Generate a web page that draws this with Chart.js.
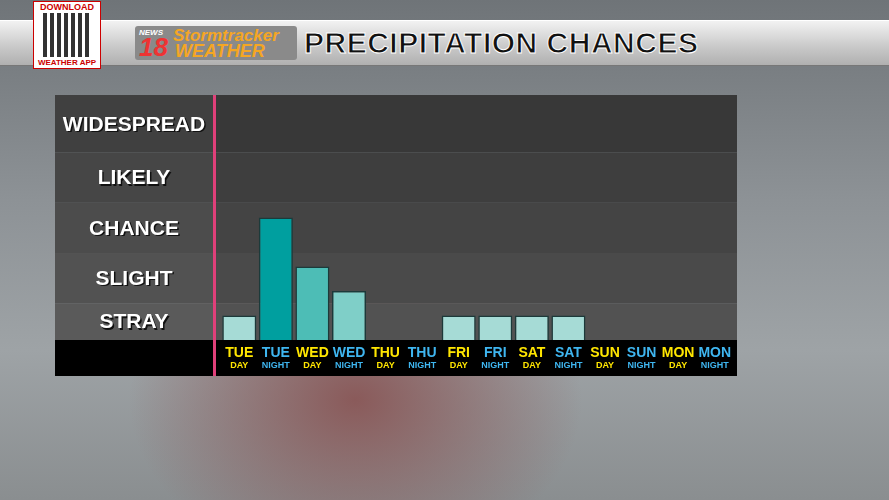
<!DOCTYPE html>
<html><head><meta charset="utf-8">
<script src="https://cdn.jsdelivr.net/npm/chart.js@4"></script>
<style>
body{margin:0;width:889px;height:500px;overflow:hidden;font-family:"Liberation Sans",Arial,sans-serif;
background:radial-gradient(ellipse at 40% 80%,#8a5a5a 0%,rgba(120,110,115,0) 30%),linear-gradient(180deg,#6f7478 0%,#8d9296 40%,#9ea3a6 70%,#8a8e90 100%);position:relative}
#hdr{position:absolute;left:0;top:20px;width:889px;height:44px;background:linear-gradient(180deg,#f2f2f2,#c8c8c8 60%,#b0b0b0);border-top:1px solid #fff;border-bottom:1px solid #777}
#title{position:absolute;left:304px;top:26px;font:bold 30px "Liberation Sans",Arial;color:#111;-webkit-text-stroke:1px #fff;letter-spacing:0.5px}
#logo{position:absolute;left:135px;top:26px;width:162px;height:34px;background:#8a8a8a;border-radius:3px}
#logo span{position:absolute;font-weight:bold;font-style:italic}
#qr{position:absolute;left:33px;top:1px;width:66px;height:66px;background:#fff;border:1px solid #c00}
#wrap{position:absolute;left:55px;top:95px;width:682px;height:281px}
</style></head><body>
<div id="hdr"></div>
<div id="qr"><div style="font:bold 9px Arial;color:#c00;text-align:center">DOWNLOAD</div><div style="margin:1px 9px;height:44px;background:repeating-linear-gradient(90deg,#000 0 4px,#fff 4px 7px),#000;opacity:.8"></div><div style="font:bold 8px Arial;color:#c00;text-align:center">WEATHER APP</div></div>
<div id="logo"><span style="left:4px;top:2px;color:#fff;font-size:8px">NEWS</span><span style="left:4px;top:6px;color:#e33;font-size:26px">18</span><span style="left:38px;top:0;color:#f5a623;font-size:17px">Stormtracker</span><span style="left:40px;top:15px;color:#f5a623;font-size:18px">WEATHER</span></div>
<div id="title">PRECIPITATION CHANCES</div>
<div id="wrap"><canvas id="c" width="682" height="281"></canvas></div>
<script>
const days=["TUE","TUE","WED","WED","THU","THU","FRI","FRI","SAT","SAT","SUN","SUN","MON","MON"];
const periods=["DAY","NIGHT","DAY","NIGHT","DAY","NIGHT","DAY","NIGHT","DAY","NIGHT","DAY","NIGHT","DAY","NIGHT"];
const chances=[10,50,30,20,0,0,10,10,10,10,0,0,0,0];
const levels=["STRAY","SLIGHT","CHANCE","LIKELY","WIDESPREAD"];
const levelTops=[15,35.5,56,76.5,100];
const barColors=["#a6dbd6","#009f9f","#4dbdb6","#7fcfc8","#a6dbd6","#a6dbd6","#a6dbd6","#a6dbd6","#a6dbd6","#a6dbd6","#a6dbd6","#a6dbd6","#a6dbd6","#a6dbd6"];
const bandColors=["#525252","#4a4a4a","#444444","#3e3e3e","#383838"];
const labColors=["#5a5a5a","#525252","#4c4c4c","#464646","#404040"];
const deco={id:"deco",beforeDraw(ch){
 const c=ch.ctx,a=ch.chartArea,y=ch.scales.y;
 const sep=158;
 let prev=0;
 levelTops.forEach((t,i)=>{const y0=y.getPixelForValue(prev),y1=y.getPixelForValue(t);
  c.fillStyle=bandColors[i];c.fillRect(sep,y1,ch.width-sep,y0-y1);
  c.fillStyle=labColors[i];c.fillRect(0,y1,sep,y0-y1);
  c.font="bold 21px 'Liberation Sans',Arial";c.textAlign="center";c.textBaseline="middle";
  c.fillStyle="#111";c.fillText(levels[i],sep/2+1.5,(y0+y1)/2+2.5);
  c.fillStyle="#fff";c.fillText(levels[i],sep/2,(y0+y1)/2+1);prev=t;});
 c.fillStyle="#000";c.fillRect(0,a.bottom,ch.width,ch.height-a.bottom);
 c.fillStyle="#e0407a";c.fillRect(sep,0,3,ch.height);
},afterDraw(ch){
 const c=ch.ctx,a=ch.chartArea,x=ch.scales.x;c.textAlign="center";c.textBaseline="alphabetic";
 days.forEach((d,i)=>{const px=x.getPixelForValue(i);const col=periods[i]=="DAY"?"#ffe600":"#3fb6f0";
  c.fillStyle=col;c.font="bold 14px 'Liberation Sans',Arial";c.fillText(d,px,a.bottom+17);
  c.font="bold 9px 'Liberation Sans',Arial";c.fillText(periods[i],px,a.bottom+28);});
}};
new Chart(document.getElementById("c"),{type:"bar",
 data:{labels:days.map((d,i)=>d+" "+periods[i]),datasets:[{data:chances,backgroundColor:barColors,borderColor:"#1c3a3a",borderWidth:1.5,barPercentage:0.93,categoryPercentage:1}]},
 options:{responsive:false,animation:false,layout:{padding:{left:166,bottom:36,top:0,right:4}},
 plugins:{legend:{display:false},tooltip:{enabled:false}},
 scales:{x:{display:false},y:{display:false,min:0,max:100}}},plugins:[deco]});
</script></body></html>
